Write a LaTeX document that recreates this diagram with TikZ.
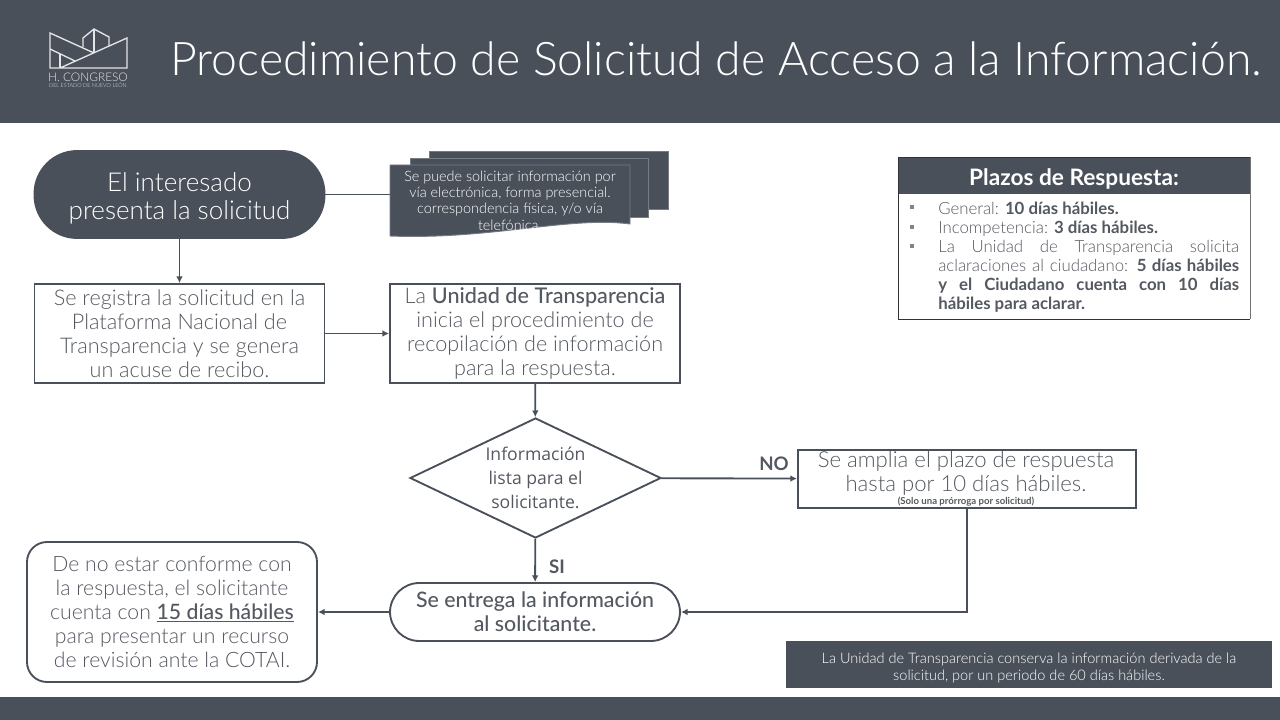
\documentclass[tikz,border=0pt]{standalone}
\usepackage{fontspec}
\setmainfont{Lato Light}[BoldFont=Lato Medium]
\newfontfamily\dialogfont{Open Sans}
\newfontfamily\heavyfont{Lato Bold}
\usepackage{tikz}
\usetikzlibrary{shapes.geometric,arrows.meta}

\definecolor{slate}{RGB}{74,80,90}
\definecolor{inkgray}{RGB}{84,88,96}

\tikzset{
  conn/.style={draw=slate, line width=1.4pt, -{Latex[length=5pt,width=5pt]}},
  plainconn/.style={draw=slate, line width=1.4pt},
  flowbox/.style={draw=slate, line width=1.4pt, align=center, text=inkgray, inner sep=0pt,
    font=\fontsize{16.2}{18}\selectfont},
  docsheet/.style={fill=slate, draw=slate!75, line width=0.7pt},
  logoline/.style={draw=white!85!slate, line width=1pt},
  tableline/.style={line width=0.7pt, draw=black!80},
}

\begin{document}
\begin{tikzpicture}[x=0.75pt, y=-0.75pt, line join=miter]
\useasboundingbox (0,0) rectangle (1280,720);

% Bands
\fill[slate] (0,0) rectangle (1280,123);
\fill[slate] (0,697) rectangle (1280,720);

% Logo
\draw[logoline] (94,53) -- (50,33) -- (50,68) -- (127,68) -- (127,38) -- (60,68);
\draw[logoline] (50,49) -- (75,61);
\draw[logoline] (60,54) -- (60,68);
\draw[logoline] (83,47) -- (83,38) -- (94,29) -- (109,37) -- (109,46);
\draw[logoline] (94,29) -- (94,53);
\node[text=white!85!slate, font=\fontsize{8.9}{9}\selectfont] (logotext) at (88,77) {H. CONGRESO};
\node[text=white!85!slate, font=\fontsize{4.1}{5}\selectfont] (logosub) at (88,85) {DEL ESTADO DE NUEVO LEÓN};

% Title
\node[anchor=west, text=white, inner sep=0pt, font=\fontsize{34.8}{36}\selectfont] (title) at (170,59)
  {Procedimiento de Solicitud de Acceso a la Información.};

% Flow boxes
\node[flowbox, fill=slate, text=white, rounded corners=32pt, minimum width=290*0.75pt, minimum height=87*0.75pt, text height=41pt, font=\fontsize{19.5}{21}\selectfont] (start) at (179.5,194.5)
  {El interesado\\presenta la solicitud};
\node[flowbox, minimum width=290*0.75pt, minimum height=99*0.75pt] (registro) at (179.5,333.5)
  {Se registra la solicitud en la\\Plataforma Nacional de\\Transparencia y se genera\\un acuse de recibo.};
\node[flowbox, minimum width=290*0.75pt, minimum height=99*0.75pt] (unidad) at (535,333.5)
  {La \textbf{Unidad de Transparencia}\\inicia el procedimiento de\\recopilación de información\\para la respuesta.};
\node[flowbox, diamond, aspect=2.09, minimum width=251*0.75pt, minimum height=120*0.75pt, font=\dialogfont\fontsize{13.2}{18}\selectfont] (lista) at (535.5,478)
  {Información\\lista para el\\solicitante.};
\node[flowbox, minimum width=338*0.75pt, minimum height=58*0.75pt, anchor=north west] (amplia) at (797,449) {};
\node[align=center, text=inkgray, inner sep=0pt, font=\fontsize{16.6}{18}\selectfont] (amplitext) at (966,473)
  {Se amplia el plazo de respuesta\\hasta por 10 días hábiles.};
\node[text=inkgray, inner sep=0pt, font=\heavyfont\fontsize{7.2}{8}\selectfont] (amplinota) at (966,501.5)
  {(Solo una prórroga por solicitud)};
\node[flowbox, rounded corners=22pt, minimum width=290*0.75pt, minimum height=58*0.75pt, font=\bfseries\fontsize{16}{18}\selectfont] (entrega) at (535,612)
  {Se entrega la información\\al solicitante.};
\node[flowbox, rounded corners=15pt, minimum width=290*0.75pt, minimum height=140*0.75pt, font=\fontsize{15.9}{18}\selectfont] (recurso) at (172,612)
  {De no estar conforme con\\la respuesta, el solicitante\\cuenta con \underline{\textbf{15 días hábiles}}\\para presentar un recurso\\de revisión ante la COTAI.};

% Stacked documents
\draw[docsheet] (429,151) -- (668,151) -- (668,209) -- (429,209) -- cycle;
\draw[docsheet] (410,158) -- (648,158) -- (648,217) -- (410,217) -- cycle;
\draw[docsheet] (390,165) -- (630,165) -- (630,224) .. controls (570,216) and (490,240) .. (390,236) -- cycle;
\node[align=center, text=white, inner sep=0pt, minimum width=240*0.75pt, minimum height=72*0.75pt, font=\fontsize{10.8}{12.3}\selectfont] (medios) at (510,200.5)
  {Se puede solicitar información por\\vía electrónica, forma presencial.\\correspondencia física, y/o vía\\telefónica.};

% Connectors
\coordinate (esquina) at (967,612);
\draw[plainconn] (start.east) -- (start.east -| medios.west);
\draw[conn] (start) -- (registro);
\draw[conn] (registro) -- (unidad);
\draw[conn] (unidad) -- (lista);
\draw[conn] (lista) -- (amplia);
\draw[conn] (lista) -- (entrega);
\draw[conn] (amplia.south -| esquina) -- (esquina) -- (entrega);
\draw[conn] (entrega) -- (recurso);
\node[text=inkgray, inner sep=0pt, font=\heavyfont\fontsize{14}{16}\selectfont] (nolabel) at (774,464) {NO};
\node[text=inkgray, inner sep=0pt, font=\heavyfont\fontsize{14}{16}\selectfont] (silabel) at (557,567) {SI};

% Response times
\node[fill=slate, text=white, inner sep=0pt, minimum width=352*0.75pt, minimum height=37*0.75pt, text height=17.5pt, font=\heavyfont\fontsize{17}{18}\selectfont] (plazos) at (1074,175.5)
  {Plazos de Respuesta:};
\draw[tableline] (898,157) -- (1250,157);
\draw[tableline] (898,319) -- (1250,319);
\draw[tableline] (898,157) -- (898,319);
\draw[tableline, draw=black!55] (1250,157) -- (1250,319);
\foreach \y in {207,227,246} {
  \fill[slate!70] (910,\y-2) rectangle (914,\y+2);
}
\node[anchor=north west, text=inkgray, text width=301*0.75pt, align=justify, inner sep=0pt, font=\fontsize{12.6}{14.3}\selectfont] (plazostexto) at (938,201.5)
  {General: {\heavyfont 10 días hábiles.}\\
   Incompetencia: {\heavyfont 3 días hábiles.}\\
   La Unidad de Transparencia solicita\linebreak aclaraciones al ciudadano: {\heavyfont 5 días hábiles\linebreak y el Ciudadano cuenta con 10 días\linebreak hábiles para aclarar.}};

% Retention note
\node[fill=slate, text=white, align=center, inner sep=0pt, minimum width=486*0.75pt, minimum height=47*0.75pt, text height=26.5pt, font=\fontsize{10.9}{12.8}\selectfont] (conserva) at (1029,664.5)
  {La Unidad de Transparencia conserva la información derivada de la\\solicitud, por un periodo de 60 días hábiles.};

\end{tikzpicture}
\end{document}
